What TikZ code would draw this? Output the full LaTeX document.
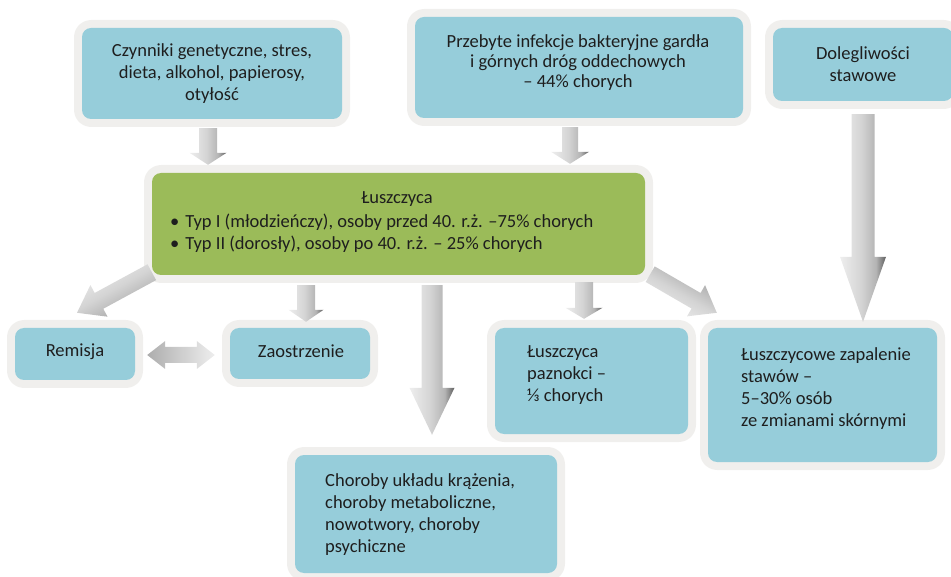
\documentclass[tikz,border=0pt]{standalone}
\usepackage{fontspec}
\setmainfont{Carlito}
\usetikzlibrary{calc}

\definecolor{boxblue}{HTML}{96CDDA}
\definecolor{boxgreen}{HTML}{9BBB59}
\definecolor{rim}{HTML}{F0EFED}
\definecolor{ink}{HTML}{1E1E1E}
\definecolor{arrlight}{HTML}{EEEEEE}
\definecolor{arrmid}{HTML}{D4D4D4}
\definecolor{arrdeep}{HTML}{B4B4B4}
\definecolor{arrdark}{HTML}{5E5E5E}

% gradient across the width of the block arrows: light on one side, dark edge on the other
\pgfdeclarehorizontalshading{arrowgrad}{100bp}{color(0bp)=(arrlight); color(25bp)=(arrlight); color(48bp)=(arrmid); color(64bp)=(arrdeep); color(75bp)=(arrdark); color(100bp)=(arrdark)}

% block arrow: tail, tip, shaft half width, head half width, head length, shading angle
\newcommand\blockarrow[6]{%
  \coordinate (ba-neck) at ($(#2)!#5!(#1)$);
  \shade[shading=arrowgrad, shading angle=#6]
    ($(#1)!#3!90:(#2)$) -- ($(ba-neck)!#3!90:(#2)$) -- ($(ba-neck)!#4!90:(#2)$) -- (#2)
    -- ($(ba-neck)!#4!-90:(#2)$) -- ($(ba-neck)!#3!-90:(#2)$) -- ($(#1)!#3!-90:(#2)$) -- cycle;
}

% block arrow with a head at both ends: end A, end B, shaft half width, head half width, head length
\newcommand\twowayarrow[5]{%
  \coordinate (tw-a) at ($(#1)!#5!(#2)$);
  \coordinate (tw-b) at ($(#2)!#5!(#1)$);
  \shade[left color=arrdark!45!arrlight, right color=arrlight]
    (#1) -- ($(tw-a)!#4!90:(#2)$) -- ($(tw-a)!#3!90:(#2)$) -- ($(tw-b)!#3!-90:(#1)$)
    -- ($(tw-b)!#4!-90:(#1)$) -- (#2) -- ($(tw-b)!#4!90:(#1)$) -- ($(tw-b)!#3!90:(#1)$)
    -- ($(tw-a)!#3!-90:(#2)$) -- ($(tw-a)!#4!-90:(#2)$) -- cycle;
}

\tikzset{
  box/.style={rounded corners=9pt, fill=boxblue, preaction={draw=rim, line width=16pt, line join=round},
              inner sep=0pt, draw=none},
  greenbox/.style={box, fill=boxgreen},
  txt/.style={text=ink, inner sep=0pt, font=\fontsize{18.5}{22}\selectfont},
  txtnarrow/.style={txt, font=\fontsize{18.5}{20}\selectfont},
}

\begin{document}
\begin{tikzpicture}[x=1pt, y=-1pt]
  \useasboundingbox (0,0) rectangle (951,577);
  \clip (0,0) rectangle (951,577);

  % boxes
  \node[box, minimum width=260pt, minimum height=91pt] (czyn) at (212,73.5) {};
  \node[box, minimum width=328pt, minimum height=101pt] (przeb) at (579,67.5) {};
  \node[box, minimum width=180pt, minimum height=73pt] (doleg) at (863,64.5) {};
  \node[greenbox, minimum width=493pt, minimum height=102pt] (luszcz) at (398.5,224) {};
  \node[box, minimum width=120pt, minimum height=52pt] (remisja) at (75,354) {};
  \node[box, minimum width=140pt, minimum height=51pt] (zaost) at (300,353.5) {};
  \node[box, minimum width=193pt, minimum height=106pt] (paznokci) at (591.5,381) {};
  \node[box, minimum width=229pt, minimum height=134pt] (stawy) at (822.5,395) {};
  \node[box, minimum width=262pt, minimum height=118pt] (choroby) at (426,514) {};

  % texts
  \node[txt, align=center] (czyn-t) at (212,73.5)
    {Czynniki genetyczne, stres,\\dieta, alkohol, papierosy,\\otyłość};
  \node[txtnarrow, align=center] (przeb-t) at (578,63)
    {Przebyte infekcje bakteryjne gardła\\i górnych dróg oddechowych\\– 44\% chorych};
  \node[txt, align=center] (doleg-t) at (863,64)
    {Dolegliwości\\stawowe};
  \node[txt] (luszcz-t) at (397,199) {Łuszczyca};
  \node[txt, align=left, anchor=west] (luszcz-b) at (170,233.5)
    {•\hspace{6pt}Typ I (młodzieńczy), osoby przed 40. r.ż. –75\% chorych\\
     •\hspace{6pt}Typ II (dorosły), osoby po 40. r.ż. – 25\% chorych};
  \node[txt] (remisja-t) at (75,352) {Remisja};
  \node[txt] (zaost-t) at (301,351) {Zaostrzenie};
  \node[txt, align=left, anchor=west] (paznokci-t) at (527,375.5)
    {Łuszczyca\\paznokci –\\⅓ chorych};
  \node[txt, align=left, anchor=west] (stawy-t) at (741,388.5)
    {Łuszczycowe zapalenie\\stawów –\\5–30\% osób\\ze zmianami skórnymi};
  \node[txt, align=left, anchor=west] (choroby-t) at (325,515)
    {Choroby układu krążenia,\\choroby metaboliczne,\\nowotwory, choroby\\psychiczne};

  % arrow ends, placed on the boxes
  \coordinate (czyn-out)    at ($(czyn.south)+(-4,9)$);
  \coordinate (czyn-in)     at ($(czyn-out |- luszcz.north)+(0,-8)$);
  \coordinate (przeb-out)   at ($(przeb.south)+(-9,9)$);
  \coordinate (przeb-in)    at ($(przeb-out |- luszcz.north)+(0,-9)$);
  \coordinate (doleg-out)   at ($(doleg.south)+(0,13)$);
  \coordinate (doleg-in)    at ($(doleg-out |- stawy.north)+(0,-6)$);
  \coordinate (rem-out)     at ($(luszcz.south west)+(0,-3)$);
  \coordinate (rem-in)      at ($(remisja.north)+(2,-15)$);
  \coordinate (zaost-out)   at ($(luszcz.south)+(-92.5,10)$);
  \coordinate (zaost-in)    at ($(zaost-out |- zaost.north)+(0,-6)$);
  \coordinate (chor-out)    at ($(luszcz.south)+(33.5,10)$);
  \coordinate (chor-in)     at ($(chor-out |- choroby.north)+(0,-20)$);
  \coordinate (paz-out)     at ($(luszcz.south)+(185.5,7)$);
  \coordinate (paz-in)      at ($(paz-out |- paznokci.north)+(0,-9)$);
  \coordinate (stawy-out)   at ($(luszcz.south east)+(5,-1)$);
  \coordinate (stawy-in)    at ($(stawy.north west)+(9,-15)$);
  \coordinate (rem-side)    at ($(remisja.east)+(12,1)$);
  \coordinate (zaost-side)  at ($(zaost.west)+(-15,1.5)$);

  % arrows
  \blockarrow{czyn-out}{czyn-in}{9pt}{18.5pt}{12pt}{0}
  \blockarrow{przeb-out}{przeb-in}{8pt}{19pt}{12pt}{0}
  \blockarrow{doleg-out}{doleg-in}{11.5pt}{23pt}{65pt}{0}
  \blockarrow{rem-out}{rem-in}{9pt}{18pt}{25pt}{299}
  \blockarrow{zaost-out}{zaost-in}{9pt}{17.5pt}{12pt}{0}
  \blockarrow{chor-out}{chor-in}{10.5pt}{22.5pt}{47pt}{0}
  \blockarrow{paz-out}{paz-in}{9pt}{18.5pt}{11pt}{0}
  \blockarrow{stawy-out}{stawy-in}{9pt}{18pt}{24pt}{60}
  \twowayarrow{rem-side}{zaost-side}{8pt}{14pt}{18pt}
\end{tikzpicture}
\end{document}
